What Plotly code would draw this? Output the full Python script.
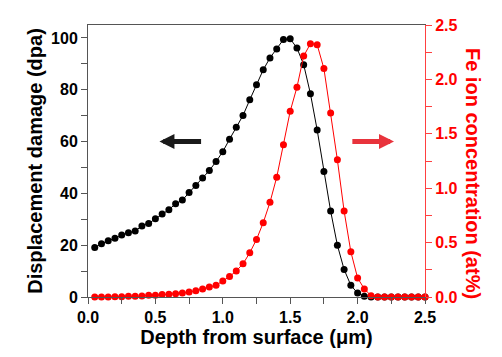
import plotly.graph_objects as go

depth = [0.05, 0.10, 0.15, 0.20, 0.25, 0.30, 0.35, 0.40, 0.45, 0.50,
         0.55, 0.60, 0.65, 0.70, 0.75, 0.80, 0.85, 0.90, 0.95, 1.00,
         1.05, 1.10, 1.15, 1.20, 1.25, 1.30, 1.35, 1.40, 1.45, 1.50,
         1.55, 1.60, 1.65, 1.70, 1.75, 1.80, 1.85, 1.90, 1.95, 2.00,
         2.05, 2.10, 2.15, 2.20, 2.25, 2.30, 2.35, 2.40, 2.45, 2.50]

dpa = [19.1, 20.6, 21.7, 22.7, 23.9, 24.8, 25.5, 27.4, 28.4, 30.2,
       32.0, 33.7, 36.0, 37.4, 40.3, 43.0, 45.9, 48.8, 52.3, 56.1,
       60.9, 65.5, 70.1, 76.1, 81.9, 87.7, 92.3, 95.7, 99.4, 99.7,
       96.1, 89.7, 78.5, 64.5, 48.4, 33.2, 20.0, 10.6, 4.5, 1.5,
       0.3, 0.0, 0.0, 0.0, 0.0, 0.0, 0.0, 0.0, 0.0, 0.0]

fe_conc = [0.000, 0.000, 0.000, 0.003, 0.003, 0.006, 0.006, 0.009, 0.015, 0.015,
           0.022, 0.025, 0.031, 0.037, 0.046, 0.058, 0.074, 0.092, 0.108, 0.148,
           0.188, 0.240, 0.305, 0.406, 0.529, 0.683, 0.870, 1.101, 1.399, 1.707,
           1.928, 2.214, 2.328, 2.319, 2.100, 1.691, 1.261, 0.790, 0.415, 0.175,
           0.074, 0.012, 0.000, 0.000, 0.000, 0.000, 0.000, 0.000, 0.000, 0.000]

FONT = "Liberation Sans, Arial, sans-serif"
AXIS_GRAY = "#555555"

fig = go.Figure()
fig.add_trace(go.Scatter(
    x=depth, y=dpa, mode="lines+markers", yaxis="y",
    line=dict(color="black", width=1),
    marker=dict(color="black", size=7),
    cliponaxis=False, showlegend=False))
fig.add_trace(go.Scatter(
    x=depth, y=fe_conc, mode="lines+markers", yaxis="y2",
    line=dict(color="#ff0000", width=1),
    marker=dict(color="#ff0000", size=7),
    cliponaxis=False, showlegend=False))

tickfont_black = dict(family=FONT, size=16, color="black", weight="bold")
tickfont_red = dict(family=FONT, size=16, color="#ff0000", weight="bold")
titlefont = dict(family=FONT, size=20, color="black", weight="bold")

fig.update_layout(
    width=502, height=357,
    margin=dict(l=88, r=77, t=25, b=60),
    plot_bgcolor="white", paper_bgcolor="white",
    xaxis=dict(
        range=[0, 2.5], dtick=0.5, tick0=0, tickformat=".1f",
        showgrid=False, zeroline=False, automargin=False,
        showline=True, linecolor=AXIS_GRAY, linewidth=1, mirror=True,
        ticks="outside", ticklen=6, tickcolor=AXIS_GRAY,
        minor=dict(dtick=0.25, ticks="outside", ticklen=6, tickcolor=AXIS_GRAY),
        tickfont=tickfont_black,
        title=dict(text="Depth from surface (μm)", font=titlefont, standoff=2),
    ),
    yaxis=dict(
        range=[0, 105], dtick=20, tick0=0,
        showgrid=False, zeroline=False, automargin=False,
        showline=True, linecolor=AXIS_GRAY, linewidth=1,
        ticks="outside", ticklen=6, tickcolor=AXIS_GRAY,
        minor=dict(dtick=10, ticks="outside", ticklen=6, tickcolor=AXIS_GRAY),
        tickfont=tickfont_black,
        title=dict(text="Displacement damage (dpa)", font=titlefont, standoff=3),
    ),
    yaxis2=dict(
        overlaying="y", side="right",
        range=[0, 2.5], dtick=0.5, tick0=0, tickformat=".1f",
        showgrid=False, zeroline=False, automargin=False,
        showline=True, linecolor="#ff4040", linewidth=1,
        ticks="outside", ticklen=6, tickcolor="#ff4040",
        minor=dict(dtick=0.25, ticks="outside", ticklen=6, tickcolor="#ff4040"),
        tickfont=tickfont_red,
    ),
)

# Right axis title (reads top to bottom)
fig.add_annotation(
    text="Fe ion concentration (at%)", textangle=90,
    xref="paper", yref="paper", x=1, y=0.456, xshift=48,
    showarrow=False, xanchor="center", yanchor="middle",
    font=dict(family=FONT, size=20, color="#ff0000", weight="bold"))

# Direction arrows
fig.add_annotation(
    x=0.53, y=60, ax=0.85, ay=60, xref="x", yref="y", axref="x", ayref="y",
    text="", showarrow=True, arrowhead=2, arrowsize=0.6, arrowwidth=5,
    arrowcolor="#1a1a1a")
fig.add_annotation(
    x=2.27, y=1.43, ax=1.95, ay=1.43, xref="x", yref="y2", axref="x", ayref="y2",
    text="", showarrow=True, arrowhead=2, arrowsize=0.6, arrowwidth=5,
    arrowcolor="#e8333c")

fig.write_html("out.html",
               config={"displayModeBar": False},
               post_script="document.body.style.margin='0';document.body.style.overflow='hidden';")
